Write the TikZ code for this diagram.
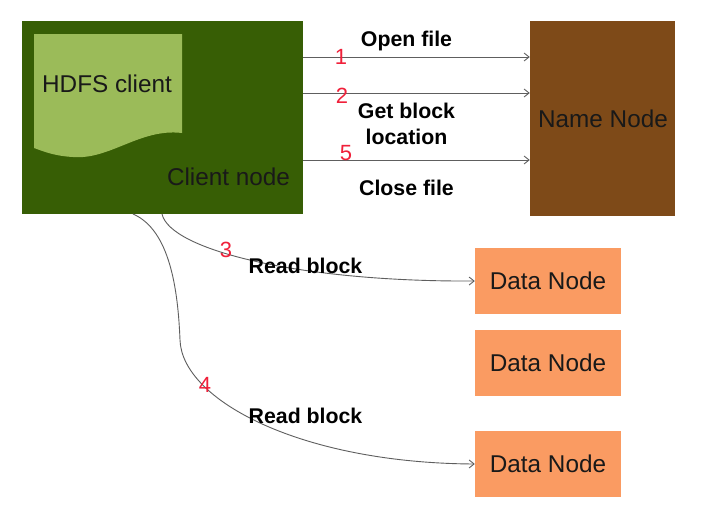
\documentclass[tikz,border=0pt]{standalone}
\usepackage{fontspec}
\setmainfont{Liberation Sans}
\usetikzlibrary{arrows.meta}
\definecolor{clientgreen}{HTML}{375E05}
\definecolor{docgreen}{HTML}{9BBB59}
\definecolor{namebrown}{HTML}{7E4A18}
\definecolor{dataorange}{HTML}{FA9B62}
\definecolor{numred}{HTML}{F0203A}
\definecolor{linegray}{HTML}{5E5E5E}
\tikzset{
  x=1pt, y=-1pt,
  box/.style={draw=none, inner sep=0pt, font=\fontsize{24.3}{26}\selectfont, text=black!90},
  datanode/.style={box, fill=dataorange, minimum width=146pt, minimum height=66pt},
  lbl/.style={font=\bfseries\fontsize{21.3}{23}\selectfont, anchor=base, inner sep=0pt},
  num/.style={font=\fontsize{22}{24}\selectfont, text=numred, anchor=base, inner sep=0pt},
  conn/.style={draw=linegray, line width=0.9pt, -{Straight Barb[length=5pt,width=8pt]}},
}
\begin{document}
\begin{tikzpicture}
\useasboundingbox (0,0) rectangle (728,514);
\fill[white] (0,0) rectangle (728,514);
% Client node
\node[box, fill=clientgreen, minimum width=281pt, minimum height=193pt] (client) at (162.5,117.5) {};
\fill[docgreen] (34,34) -- (182,34) -- (182,133)
  .. controls (140,128) and (110,160) .. (73,157)
  .. controls (55,156) and (45,152) .. (34,148) -- cycle;
\node[box, anchor=base] (hdfs) at (107,92) {HDFS client};
\node[box, anchor=base] (clientlbl) at (228.5,185) {Client node};
% Name node
\node[box, fill=namebrown, minimum width=145pt, minimum height=195pt] (name) at (602.5,118.5) {};
\node[box] (namelbl) at (603,119) {Name Node};
% Data nodes
\node[datanode] (dn1) at (548,281) {Data Node};
\node[datanode] (dn2) at (548,363) {Data Node};
\node[datanode] (dn3) at (548,464) {Data Node};
% coordinates on the name node side
\coordinate (a1) at (303,57);
\coordinate (a2) at (303,93);
\coordinate (a5) at (303,160);
\draw[conn] (a1) -- (a1 -| name.west);
\draw[conn] (a2) -- (a2 -| name.west);
\draw[conn] (a5) -- (a5 -| name.west);
% curves
\coordinate (s3) at (162,214);
\coordinate (s4) at (133,214);
\draw[conn] (s3) .. controls (170,250) and (300,282) .. (dn1.west);
\draw[conn] (s4) .. controls (170,230) and (178,290) .. (180,340)
  .. controls (182,400) and (300,463) .. (dn3.west);
% labels
\node[lbl] (l1) at (406.5,46) {Open file};
\node[lbl] (l2a) at (406.5,118) {Get block};
\node[lbl] (l2b) at (406.5,144) {location};
\node[lbl] (l5) at (406.5,195) {Close file};
\node[lbl] (l3) at (305.5,273) {Read block};
\node[lbl] (l4) at (305.5,423) {Read block};
\node[num] (n1) at (341,64) {1};
\node[num] (n2) at (342,103) {2};
\node[num] (n5) at (346,160) {5};
\node[num] (n3) at (226,257) {3};
\node[num] (n4) at (205,392) {4};
\end{tikzpicture}
\end{document}
